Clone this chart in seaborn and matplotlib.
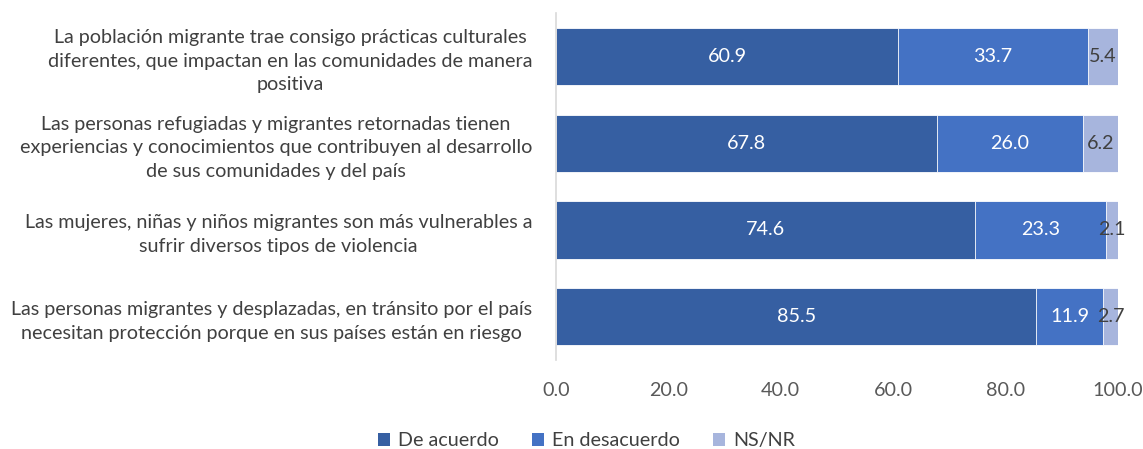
import matplotlib
matplotlib.use("Agg")
import matplotlib.pyplot as plt
import seaborn as sns
import pandas as pd
import numpy as np
from matplotlib.patches import Patch

categories = [
    "La población migrante trae consigo prácticas culturales\ndiferentes, que impactan en las comunidades de manera\npositiva",
    "Las personas refugiadas y migrantes retornadas tienen\nexperiencias y conocimientos que contribuyen al desarrollo\nde sus comunidades y del país",
    "Las mujeres, niñas y niños migrantes son más vulnerables a\nsufrir diversos tipos de violencia",
    "Las personas migrantes y desplazadas, en tránsito por el país\nnecesitan protección porque en sus países están en riesgo",
]
de_acuerdo = [60.9, 67.8, 74.6, 85.5]
en_desacuerdo = [33.7, 26.0, 23.3, 11.9]
ns_nr = [5.4, 6.2, 2.1, 2.7]
series_names = ["De acuerdo", "En desacuerdo", "NS/NR"]
xticks = [0, 20, 40, 60, 80, 100]

colors = ["#365FA2", "#4472C4", "#A7B5DD"]
text_colors = ["white", "white", "#404040"]
FS = 14.2

sns.set_style("white")
plt.rcParams["font.family"] = ["Lato", "DejaVu Sans"]

df = pd.DataFrame({
    "cat": categories,
    "s1": de_acuerdo,
    "s2": en_desacuerdo,
    "s3": ns_nr,
})
df["c1"] = df["s1"]
df["c2"] = df["s1"] + df["s2"]
df["c3"] = df["s1"] + df["s2"] + df["s3"]

fig = plt.figure(figsize=(11.43, 4.49), dpi=100)
ax = fig.add_axes([0.4864, 0.198, 0.4917, 0.773])

for col, color in zip(["c3", "c2", "c1"], colors[::-1]):
    sns.barplot(data=df, x=col, y="cat", orient="h", color=color, width=0.66,
                ax=ax, edgecolor="white", linewidth=0.6, saturation=1)

# labels
for i in range(len(categories)):
    vals = [df["s1"][i], df["s2"][i], df["s3"][i]]
    starts = [0, df["c1"][i], df["c2"][i]]
    for v, s, tc in zip(vals, starts, text_colors):
        ax.text(s + v / 2, i, f"{v:.1f}", ha="center", va="center",
                color=tc, fontsize=FS)

ax.set_xlim(0, 100)
ax.set_xticks(xticks)
ax.set_xticklabels([f"{t:.1f}" for t in xticks], fontsize=FS, color="#595959")
ax.tick_params(axis="x", length=0, pad=16)
ax.tick_params(axis="y", length=0, pad=17)
for lbl in ax.get_yticklabels():
    lbl.set_multialignment("center")
    lbl.set_fontsize(FS)
    lbl.set_color("#404040")
    lbl.set_linespacing(1.45)
ax.set_xlabel("")
ax.set_ylabel("")
for s in ["top", "right", "bottom"]:
    ax.spines[s].set_visible(False)
ax.spines["left"].set_color("#D9D9D9")
ax.spines["left"].set_linewidth(1.2)
ax.grid(False)

handles = [Patch(facecolor=c, edgecolor="none") for c in colors]
fig.legend(handles, series_names, loc="lower center", bbox_to_anchor=(0.513, -0.04),
           ncol=3, frameon=False, fontsize=FS, handlelength=0.6, handleheight=0.6,
           columnspacing=1.7, handletextpad=0.4, labelcolor="#404040")

fig.savefig("out.png", dpi=100)
